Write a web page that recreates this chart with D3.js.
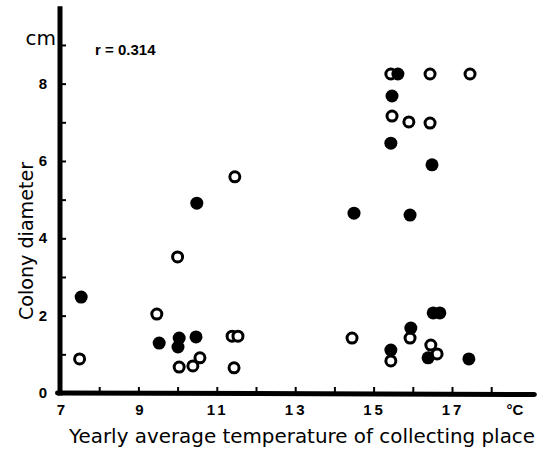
<!DOCTYPE html>
<html lang="en">
<head>
<meta charset="UTF-8">
<title>Colony diameter vs temperature</title>
<script src="https://d3js.org/d3.v7.min.js"></script>
<style>
  body { margin: 0; background: #fff; }
  svg { display: block; }
  .num { font-family: "Liberation Sans", Arial, sans-serif; font-weight: bold; font-size: 15px; fill: #000; }
  .title { font-family: "DejaVu Sans", sans-serif; font-size: 20px; fill: #000; }
</style>
</head>
<body>
<svg id="chart" width="556" height="450"></svg>
<script>
// open circles: [temperature, diameter]
const openPts = [
  [7.5, 0.88], [9.47, 2.04], [10.04, 0.67], [10.39, 0.70], [10.57, 0.91],
  [10.0, 3.52], [11.46, 5.59], [11.39, 1.47], [11.54, 1.47], [11.44, 0.65],
  [14.45, 1.42], [15.44, 8.25], [16.44, 8.25], [17.46, 8.25], [15.47, 7.16],
  [15.9, 7.01], [16.44, 6.98], [15.93, 1.42], [15.44, 0.83], [16.46, 1.24],
  [16.62, 1.01]
];
// filled circles
const filledPts = [
  [7.54, 2.48], [9.53, 1.29], [10.04, 1.42], [10.01, 1.19], [10.47, 1.45],
  [10.49, 4.91], [14.5, 4.65], [15.93, 4.6], [15.62, 8.25], [15.47, 7.68],
  [15.44, 6.46], [16.49, 5.9], [16.52, 2.07], [16.69, 2.07], [15.95, 1.68],
  [15.44, 1.11], [16.39, 0.91], [17.43, 0.88]
];
const xTicks = [8, 9, 10, 11, 12, 13, 14, 15, 16, 17, 18];
const xLabels = [7, 9, 11, 13, 15, 17];
const yTicks = [1, 2, 3, 4, 5, 6, 7, 8, 9];
const yLabels = [0, 2, 4, 6, 8];

const svg = d3.select("#chart");
const x = d3.scaleLinear().domain([7, 19]).range([60, 530.4]);
const y = d3.scaleLinear().domain([0, 10]).range([393, 6.3]);

// tick marks
svg.append("g")
    .attr("transform", `translate(${x(7)},0)`)
    .call(d3.axisRight(y).tickValues(yTicks).tickSize(6).tickFormat(""))
    .call(g => g.select(".domain").remove())
    .call(g => g.selectAll("line").attr("stroke-width", 2));

svg.append("g")
    .attr("transform", `translate(0,${y(0)})`)
    .call(d3.axisTop(x).tickValues(xTicks).tickSize(6).tickFormat(""))
    .call(g => g.select(".domain").remove())
    .call(g => g.selectAll("line").attr("stroke-width", 2));

// thick axis lines
svg.append("line")
    .attr("x1", x(7)).attr("x2", x(7))
    .attr("y1", y(10)).attr("y2", y(0) + 2.5)
    .attr("stroke", "#000").attr("stroke-width", 5);
svg.append("line")
    .attr("x1", x(7) - 2.5).attr("x2", x(19) + 4)
    .attr("y1", y(0)).attr("y2", y(0) + 1.5)
    .attr("stroke", "#000").attr("stroke-width", 5)
    .attr("stroke-linecap", "round");

// tick labels
svg.selectAll(".ylab").data(yLabels).join("text")
    .attr("class", "num")
    .attr("x", 43).attr("y", d => y(d) + 5)
    .attr("text-anchor", "middle")
    .text(d => d);
svg.append("text")
    .attr("class", "title")
    .attr("x", 56).attr("y", 45)
    .attr("text-anchor", "end")
    .attr("font-size", 18)
    .text("cm");

svg.selectAll(".xlab").data(xLabels).join("text")
    .attr("class", "num")
    .attr("x", d => x(d) + 1).attr("y", 415)
    .attr("text-anchor", "middle")
    .attr("letter-spacing", d => d > 10 ? 3 : 0)
    .text(d => d);
svg.append("text")
    .attr("class", "num")
    .attr("x", 515).attr("y", 415)
    .attr("text-anchor", "middle")
    .text("°C");

// axis titles
svg.append("text")
    .attr("class", "title")
    .attr("x", 69).attr("y", 443)
    .attr("textLength", 466)
    .attr("lengthAdjust", "spacingAndGlyphs")
    .text("Yearly average temperature of collecting place");
svg.append("text")
    .attr("class", "title")
    .attr("transform", "translate(33,241) rotate(-90)")
    .attr("text-anchor", "middle")
    .attr("textLength", 158)
    .attr("lengthAdjust", "spacingAndGlyphs")
    .text("Colony diameter");

svg.append("text")
    .attr("class", "num")
    .attr("x", 95).attr("y", 55)
    .attr("font-size", 13)
    .text("r = 0.314");

// points
svg.selectAll(".open").data(openPts).join("circle")
    .attr("cx", d => x(d[0])).attr("cy", d => y(d[1]))
    .attr("r", 5)
    .attr("fill", "#fff").attr("stroke", "#000").attr("stroke-width", 3);
svg.selectAll(".filled").data(filledPts).join("circle")
    .attr("cx", d => x(d[0])).attr("cy", d => y(d[1]))
    .attr("r", 6.5)
    .attr("fill", "#000");
</script>
</body>
</html>
